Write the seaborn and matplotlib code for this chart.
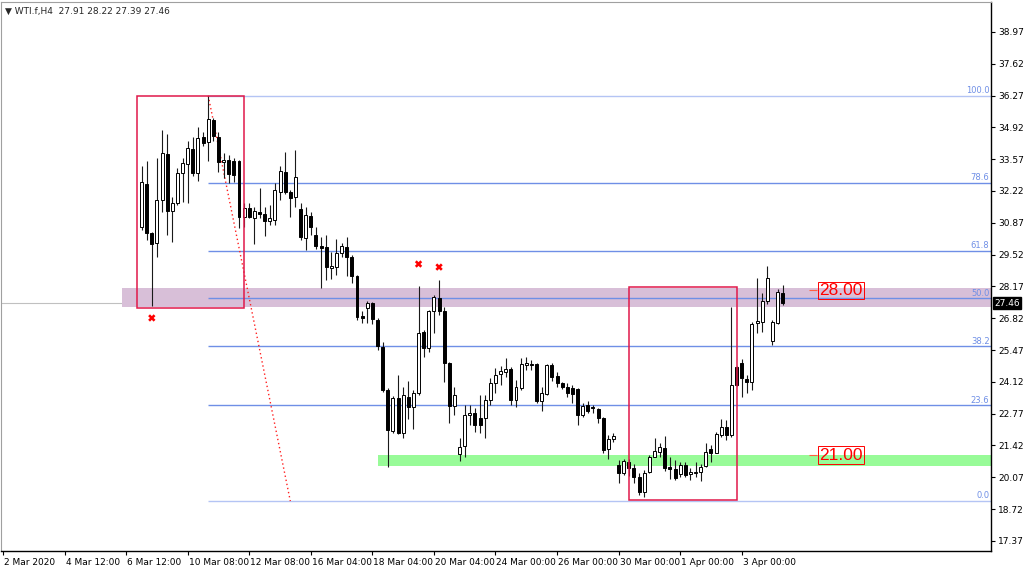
import numpy as np
import pandas as pd
import matplotlib
matplotlib.use("Agg")
import matplotlib.pyplot as plt
from matplotlib.patches import Rectangle
import matplotlib.transforms as mtransforms
import seaborn as sns

# --------------------------------------------------
# 1. Chart data (WTI.f, H4)
# --------------------------------------------------
opens = [30.71, 32.52, 30.43, 30.00, 31.84, 33.79, 31.35, 31.70, 32.97, 33.37,
         34.01, 32.97, 34.50, 34.29, 35.24, 34.53, 33.43, 33.54, 33.51, 33.51,
         31.11, 31.49, 31.06, 31.33, 31.25, 30.95, 30.99, 32.19, 33.04, 32.19,
         31.95, 31.45, 30.21, 31.16, 30.35, 29.90, 29.83, 28.97, 29.01, 29.58,
         29.86, 29.43, 28.61, 26.92, 27.24, 27.45, 26.75, 25.61, 23.77, 22.05,
         23.42, 21.94, 23.49, 23.07, 23.63, 26.25, 25.54, 27.14, 27.67, 27.14,
         24.94, 23.10, 21.06, 21.40, 22.71, 22.81, 22.57, 22.57, 23.35, 24.09,
         24.45, 24.55, 24.67, 23.35, 23.85, 24.84, 24.88, 24.88, 23.32, 23.61,
         24.84, 24.37, 24.06, 23.92, 23.85, 23.80, 22.71, 23.14, 23.07, 22.95,
         22.60, 21.26, 21.70, 20.59, 20.27, 20.73, 20.45, 20.10, 19.43, 20.28,
         20.95, 21.16, 21.30, 20.49, 20.41, 20.21, 20.59, 20.21, 20.27, 20.28,
         20.55, 21.26, 21.12, 21.87, 22.19, 21.87, 24.74, 24.91, 24.23, 24.13,
         26.61, 26.68, 27.53, 25.87, 26.61, 27.91]
highs = [33.29, 33.51, 30.46, 33.61, 34.81, 34.63, 31.96, 33.19, 33.61, 34.36,
         34.53, 34.95, 34.71, 36.26, 35.31, 34.74, 33.82, 33.75, 33.61, 33.54,
         31.73, 31.70, 31.56, 32.34, 31.56, 31.63, 32.55, 33.26, 33.89, 32.27,
         33.96, 31.70, 31.53, 31.34, 30.71, 30.28, 30.35, 29.65, 30.17, 30.00,
         30.25, 29.50, 28.66, 27.13, 27.57, 27.52, 26.82, 25.83, 23.85, 23.52,
         24.41, 23.89, 24.17, 23.77, 28.19, 26.32, 27.17, 27.81, 28.44, 27.31,
         24.98, 23.89, 21.75, 23.14, 23.14, 23.00, 23.56, 23.56, 24.27, 24.69,
         24.79, 25.12, 24.77, 24.20, 25.12, 25.19, 25.05, 24.91, 23.92, 24.88,
         24.91, 24.55, 24.13, 24.06, 23.99, 23.85, 23.21, 23.32, 23.14, 23.00,
         22.64, 21.87, 21.93, 20.80, 20.83, 20.83, 20.63, 20.24, 20.38, 21.02,
         21.72, 21.51, 21.82, 20.92, 20.80, 20.73, 20.73, 20.45, 20.73, 20.63,
         21.54, 21.44, 22.01, 22.53, 22.50, 27.28, 24.79, 25.08, 24.41, 26.68,
         28.52, 27.88, 29.04, 26.75, 28.05, 28.22]
lows = [30.57, 30.15, 27.32, 29.41, 31.33, 30.36, 30.07, 31.63, 31.74, 31.73,
        32.86, 32.66, 34.13, 33.51, 34.32, 33.04, 32.76, 32.55, 32.58, 30.64,
        30.71, 31.06, 29.97, 31.06, 30.29, 30.78, 30.78, 31.84, 32.10, 31.11,
        31.56, 30.12, 29.72, 30.35, 29.75, 28.09, 28.44, 28.47, 28.66, 29.43,
        28.63, 28.30, 26.75, 26.60, 26.60, 26.58, 25.45, 23.70, 20.49, 21.96,
        21.91, 21.72, 22.53, 22.10, 23.56, 25.19, 25.40, 26.18, 26.96, 24.13,
        22.36, 22.71, 20.76, 20.95, 22.29, 22.01, 21.94, 21.72, 23.14, 23.66,
        23.99, 24.34, 23.14, 23.07, 23.78, 24.62, 24.62, 23.21, 22.90, 23.56,
        24.17, 23.92, 23.80, 23.49, 23.21, 22.29, 22.64, 22.81, 22.78, 22.36,
        21.12, 20.83, 21.58, 19.84, 20.17, 20.12, 19.84, 19.32, 19.22, 20.24,
        20.92, 20.95, 20.35, 19.98, 19.95, 20.07, 20.07, 19.95, 20.07, 19.89,
        20.52, 20.73, 21.09, 21.77, 21.65, 21.79, 23.94, 23.49, 23.66, 23.78,
        26.18, 26.25, 27.43, 25.69, 26.58, 27.39]
closes = [32.59, 30.43, 29.97, 31.84, 33.82, 31.35, 31.70, 32.97, 33.40, 34.03,
          32.97, 34.46, 34.25, 35.27, 34.56, 33.47, 33.54, 32.93, 32.90, 31.11,
          31.49, 31.11, 31.35, 31.25, 30.96, 31.06, 32.27, 33.07, 32.19, 31.91,
          32.83, 30.26, 31.20, 30.71, 29.89, 29.82, 28.98, 29.04, 29.60, 29.89,
          29.41, 28.63, 26.89, 26.82, 27.45, 26.77, 25.66, 23.77, 22.08, 23.42,
          21.96, 23.56, 23.04, 23.63, 26.21, 25.57, 27.13, 27.71, 27.14, 24.94,
          23.10, 23.56, 21.37, 22.71, 22.81, 22.29, 22.29, 23.35, 24.09, 24.41,
          24.60, 24.67, 23.35, 23.89, 24.88, 24.91, 24.84, 23.32, 23.63, 24.84,
          24.34, 24.06, 23.89, 23.66, 23.61, 22.71, 23.10, 22.90, 23.00, 22.57,
          21.23, 21.68, 21.82, 20.27, 20.78, 20.45, 20.10, 19.46, 20.24, 20.92,
          21.20, 21.34, 20.45, 20.41, 20.03, 20.59, 20.17, 20.28, 20.31, 20.52,
          21.13, 21.12, 21.91, 22.19, 21.87, 23.99, 23.99, 24.27, 24.13, 26.56,
          26.70, 27.53, 28.52, 26.68, 27.92, 27.46]

first_bar = 27          # time-axis slot of the first candle
time_labels = ["2 Mar 2020", "4 Mar 12:00", "6 Mar 12:00", "10 Mar 08:00",
               "12 Mar 08:00", "16 Mar 04:00", "18 Mar 04:00", "20 Mar 04:00",
               "24 Mar 00:00", "26 Mar 00:00", "30 Mar 00:00", "1 Apr 00:00",
               "3 Apr 00:00"]
time_step = 12
price_ticks = [17.37, 18.72, 20.07, 21.42, 22.77, 24.12, 25.47, 26.82,
               28.17, 29.52, 30.87, 32.22, 33.57, 34.92, 36.27, 37.62, 38.97]

# fibonacci retracement (high -> low anchors)
fib_high, fib_low = 36.26, 19.06
fib_high_bar, fib_low_bar = 40, 56
fib_levels = [0.0, 23.6, 38.2, 50.0, 61.8, 78.6, 100.0]

# zones and boxes drawn on the chart
resist_zone = (27.30, 28.10, 23.2)   # low, high, start bar
support_zone = (20.55, 21.02, 73.1)
boxes = [(26.1, 47.0, 27.26, 36.26), (122.0, 143.1, 19.11, 28.15)]
level_labels = [28.00, 21.00]
cross_bars = [29, 81, 85]
cross_prices = [26.83, 29.12, 28.99]
last_price = 27.46

# --------------------------------------------------
# 2. Figure setup
# --------------------------------------------------
sns.set_theme(style="white")
plt.rcParams['font.family'] = ['DejaVu Sans']

df = pd.DataFrame({"open": opens, "high": highs, "low": lows, "close": closes})
df["bar"] = np.arange(first_bar, first_bar + len(df))
df["up"] = df["close"] >= df["open"]
df["body_lo"] = df[["open", "close"]].min(axis=1)
df["body_h"] = (df["close"] - df["open"]).abs().clip(lower=0.03)

fig = plt.figure(figsize=(10.24, 5.70), dpi=100)
fig.patch.set_facecolor("white")
ax = fig.add_axes([1 / 1024, 19 / 570, 990 / 1024, 549 / 570])
xmin, xmax = -0.4, 192.6
ax.set_xlim(xmin, xmax)
ax.set_ylim(16.94, 40.24)

# background zones
ax.axhline(last_price, color="#c0c0c0", lw=0.8, zorder=0.5)
for lo, hi, start in [resist_zone, support_zone]:
    color = "#d8bfd8" if lo > 25 else "#98fb98"
    ax.add_patch(Rectangle((start, lo), xmax - start, hi - lo,
                           facecolor=color, edgecolor="none", zorder=1))

# fibonacci levels
for lvl in fib_levels:
    p = fib_low + (fib_high - fib_low) * lvl / 100
    c = "#b4c4f4" if lvl in (0.0, 100.0) else "#6f8fe6"
    ax.hlines(p, fib_high_bar, xmax, color=c, lw=1.0, zorder=2)
    ax.text(xmax - 0.3, p + 0.03, f"{lvl:.1f}", color="#6f8fe6", fontsize=6,
            ha="right", va="bottom", zorder=6)
ax.plot([fib_high_bar, fib_low_bar], [fib_high, fib_low], color="#ff2020",
        ls=(0, (1, 2)), lw=1, zorder=2)

# rectangles
for x0, x1, y0, y1 in boxes:
    ax.add_patch(Rectangle((x0, y0), x1 - x0, y1 - y0, facecolor="none",
                           edgecolor="#e0194a", lw=1.1, zorder=5))

# --------------------------------------------------
# 3. Candles
# --------------------------------------------------
ax.vlines(df["bar"], df["low"], df["high"], color="#1a1a1a", lw=0.8, zorder=3)
ax.bar(df["bar"], df["body_h"], bottom=df["body_lo"], width=0.58,
       color=np.where(df["up"], "white", "black"), edgecolor="black",
       linewidth=0.7, zorder=4)

sns.scatterplot(x=cross_bars, y=cross_prices, marker="X", s=28, color="#ff0000",
                edgecolor="none", ax=ax, zorder=6, legend=False)

# level labels
for lvl in level_labels:
    ax.hlines(lvl, 157.2, 158.6, color="#ff6040", lw=0.8, zorder=6)
    ax.text(159.1, lvl, f"{lvl:.2f}", color="#ff0000", fontsize=12.5,
            family="Liberation Sans", ha="left", va="center", zorder=7,
            bbox=dict(boxstyle="square,pad=0.08", facecolor="none",
                      edgecolor="#ff0000", lw=0.7))

# title
ax.text(0.004, 0.992, "▼ WTI.f,H4  27.91 28.22 27.39 27.46",
        transform=ax.transAxes, fontsize=6.5, ha="left", va="top", zorder=8)

# --------------------------------------------------
# 4. Axes
# --------------------------------------------------
ax.yaxis.tick_right()
ax.set_yticks(price_ticks)
ax.set_yticklabels([f"{t:.2f}" for t in price_ticks], fontsize=6.5)
ax.tick_params(axis="y", direction="out", length=3, width=0.8, pad=2,
               colors="black", right=True, left=False)
ax.set_xticks(np.arange(len(time_labels)) * time_step)
ax.set_xticklabels(time_labels, fontsize=6.5, ha="left")
ax.tick_params(axis="x", direction="out", length=3, width=0.8, pad=2,
               colors="black", bottom=True)
for lab in ax.get_xticklabels():
    lab.set_transform(lab.get_transform() + mtransforms.ScaledTranslation(
        1 / 100, 0, fig.dpi_scale_trans))

for side in ["left", "top"]:
    ax.spines[side].set_color("#a0a0a0")
    ax.spines[side].set_linewidth(0.8)
for side in ["right", "bottom"]:
    ax.spines[side].set_color("black")
    ax.spines[side].set_linewidth(1.0)

trans = mtransforms.blended_transform_factory(ax.transAxes, ax.transData)
ax.text(1.003, last_price, f"{last_price:.2f}", transform=trans, color="white",
        fontsize=6.5, ha="left", va="center", zorder=9, clip_on=False,
        bbox=dict(boxstyle="square,pad=0.15", facecolor="black", edgecolor="black"))

fig.savefig("out.png", dpi=100)
